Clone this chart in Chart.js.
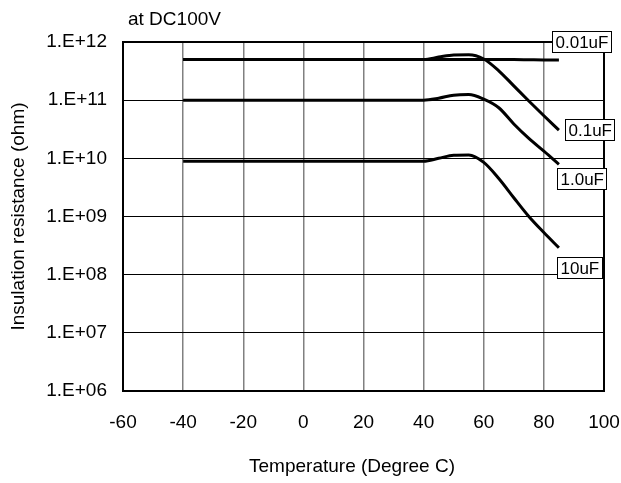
<!DOCTYPE html>
<html>
<head>
<meta charset="utf-8">
<script src="https://cdn.jsdelivr.net/npm/chart.js@4"></script>
<style>
html,body{margin:0;padding:0;background:#fff;}
#wrap{width:621px;height:483px;}
</style>
</head>
<body>
<div id="wrap"><canvas id="c" width="621" height="483"></canvas></div>
<script>
// ---- data ----
const temps = [-40, 0, 40, 45, 50, 55, 60, 65, 70, 75, 80, 85];
const seriesNames = ['0.01uF', '0.1uF', '1.0uF', '10uF'];
const cap001 = [5e11, 5e11, 5e11, 5e11, 5e11, 5e11, 5e11, 5e11, 5e11, 4.95e11, 4.9e11, 4.9e11];
const cap01  = [5e11, 5e11, 5e11, 5.5e11, 6.0e11, 6.05e11, 5.1e11, 3.2e11, 1.76e11, 9.7e10, 5.4e10, 3.05e10];
const cap1   = [1e11, 1e11, 1e11, 1.08e11, 1.22e11, 1.25e11, 1.04e11, 7.4e10, 3.9e10, 2.2e10, 1.33e10, 7.9e9];
const cap10  = [8.9e9, 8.9e9, 8.9e9, 1.0e10, 1.13e10, 1.14e10, 8.5e9, 4.5e9, 2.1e9, 1.0e9, 5.3e8, 2.9e8];
const xTicks = [-60, -40, -20, 0, 20, 40, 60, 80, 100];
const yTickValues = [1e6, 1e7, 1e8, 1e9, 1e10, 1e11, 1e12];
const yTickLabels = ['1.E+06', '1.E+07', '1.E+08', '1.E+09', '1.E+10', '1.E+11', '1.E+12'];
const xTitle = 'Temperature (Degree C)';
const yTitle = 'Insulation resistance (ohm)';
const noteText = 'at DC100V';

// label box placement relative to each series' last point (style only)
const labelOffsets = [
  {dx: -7, dy: -29},
  {dx: 6, dy: -11},
  {dx: -2, dy: 4},
  {dx: -2, dy: 9}
];

const allSeries = [cap001, cap01, cap1, cap10];
const FONT = '"Liberation Sans", Arial, sans-serif';

const datasets = allSeries.map((vals, i) => ({
  label: seriesNames[i],
  data: temps.map((t, k) => ({x: t, y: vals[k]})),
  borderColor: '#000',
  borderWidth: 3,
  pointRadius: 0,
  fill: false,
  cubicInterpolationMode: 'monotone'
}));

const decor = {
  id: 'decor',
  beforeDatasetsDraw(chart) {
    const {ctx, chartArea: a} = chart;
    ctx.save();
    ctx.strokeStyle = '#000';
    ctx.lineWidth = 2;
    ctx.strokeRect(a.left, a.top, a.right - a.left, a.bottom - a.top);
    ctx.restore();
  },
  afterDraw(chart) {
    const {ctx, chartArea: a} = chart;
    const xs = chart.scales.x, ys = chart.scales.y;
    ctx.save();
    ctx.fillStyle = '#000';
    ctx.font = '19px ' + FONT;
    ctx.textBaseline = 'middle';
    ctx.textAlign = 'left';
    ctx.fillText(noteText, 128, 20);
    ctx.textAlign = 'center';
    ctx.fillText(xTitle, 352, 467);
    ctx.save();
    ctx.translate(19, (a.top + a.bottom) / 2);
    ctx.rotate(-Math.PI / 2);
    ctx.fillText(yTitle, 0, 0);
    ctx.restore();
    // series labels
    ctx.font = '17px ' + FONT;
    ctx.textAlign = 'left';
    allSeries.forEach((vals, i) => {
      const px = xs.getPixelForValue(temps[temps.length - 1]);
      const py = ys.getPixelForValue(vals[vals.length - 1]);
      const w = Math.round(ctx.measureText(seriesNames[i]).width + 6);
      const h = 21;
      const bx = Math.round(px + labelOffsets[i].dx) + 0.5;
      const by = Math.round(py + labelOffsets[i].dy) + 0.5;
      ctx.fillStyle = '#fff';
      ctx.fillRect(bx, by, w, h);
      ctx.strokeStyle = '#000';
      ctx.lineWidth = 1;
      ctx.strokeRect(bx, by, w, h);
      ctx.fillStyle = '#000';
      ctx.fillText(seriesNames[i], bx + 3, by + h / 2 + 1);
    });
    ctx.restore();
  }
};

new Chart(document.getElementById('c'), {
  type: 'line',
  data: {datasets},
  plugins: [decor],
  options: {
    responsive: false,
    animation: false,
    devicePixelRatio: 1,
    layout: {padding: {left: 0, top: 42, right: 17, bottom: 0}},
    plugins: {legend: {display: false}, tooltip: {enabled: false}, title: {display: false}},
    scales: {
      x: {
        type: 'linear',
        min: -60, max: 100,
        afterBuildTicks(s) { s.ticks = xTicks.map(v => ({value: v})); },
        afterFit(s) { s.height = 92; s.paddingLeft = 0; s.paddingRight = 0; },
        ticks: {color: '#000', font: {size: 19, family: FONT}, padding: 20, maxRotation: 0},
        grid: {color: '#808080', lineWidth: 1.5, drawTicks: false},
        border: {display: false}
      },
      y: {
        type: 'logarithmic',
        min: 1e6, max: 1e12,
        afterBuildTicks(s) { s.ticks = yTickValues.map(v => ({value: v})); },
        afterFit(s) { s.width = 123; s.paddingTop = 0; s.paddingBottom = 0; },
        ticks: {
          color: '#000', font: {size: 19, family: FONT}, padding: 16,
          callback: (v) => { const i = yTickValues.indexOf(v); return i >= 0 ? yTickLabels[i] : ''; }
        },
        grid: {color: '#000', lineWidth: 1, drawTicks: false},
        border: {display: false}
      }
    }
  }
});
</script>
</body>
</html>
